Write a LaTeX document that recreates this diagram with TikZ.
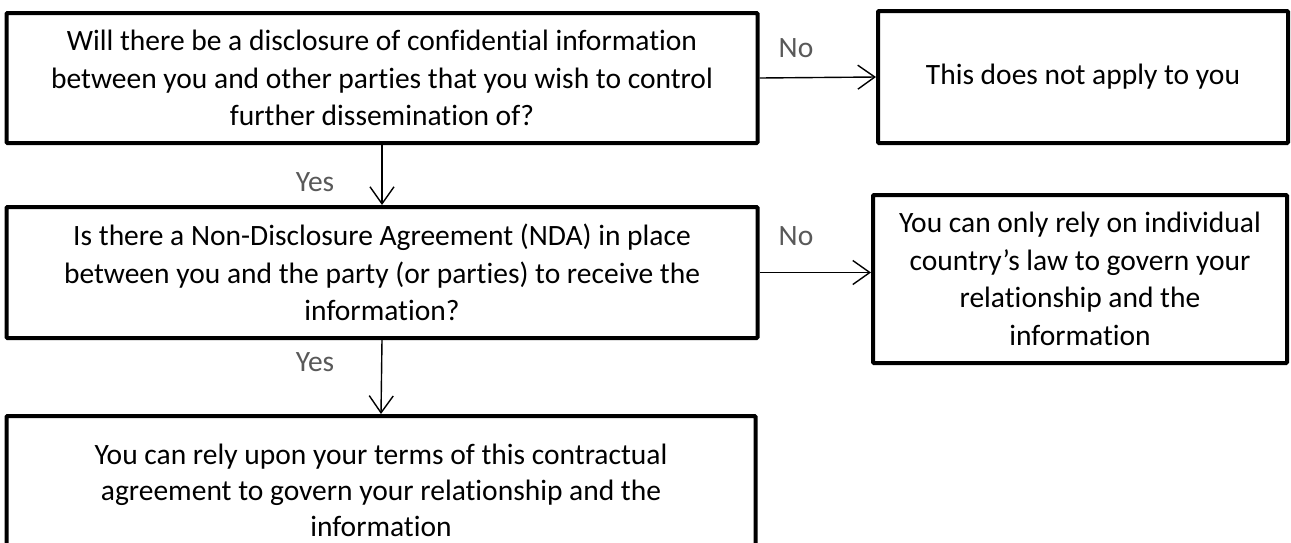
\documentclass[tikz,border=0pt]{standalone}
\usepackage{fontspec}
\setmainfont{Carlito}[RawFeature={-liga;-clig;-calt;-dlig}]
\usetikzlibrary{arrows.meta}
\definecolor{labelgrey}{HTML}{595959}
% keep "t" and "i" as separate glyphs
\newcommand\splitti{t\kern0pt i}
\tikzset{
  box/.style={draw=black, line width=4pt, rounded corners=1pt, align=center,
    inner sep=0pt, font=\fontsize{29.5}{37.5}\selectfont},
  flow/.style={line width=1.4pt, -{Straight Barb[length=17pt,width=24pt,line width=1.4pt]}},
  lbl/.style={text=labelgrey, font=\fontsize{29.5}{35}\selectfont, inner sep=0pt}
}
\begin{document}
\begin{tikzpicture}[x=1pt, y=-1pt]
  \useasboundingbox (0,0) rectangle (1291,542);
  \fill[white] (0,0) rectangle (1291,542);

  \node[box, minimum width=751pt, minimum height=130pt] (q1) at (382,78)
    {Will there be a disclosure of confiden\splitti al informa\splitti on\\
     between you and other par\splitti es that you wish to control\\
     further dissemina\splitti on of?};
  \node[box, minimum width=410pt, minimum height=132pt] (na) at (1083,77)
    {This does not apply to you};
  \node[box, minimum width=751pt, minimum height=131pt] (q2) at (382,272.5)
    {Is there a Non-Disclosure Agreement (NDA) in place\\
     between you and the party (or par\splitti es) to receive the\\
     informa\splitti on?};
  \node[box, minimum width=414pt, minimum height=168pt] (law) at (1080,279)
    {You can only rely on individual\\
     country’s law to govern your\\
     rela\splitti onship and the\\
     informa\splitti on};
  \node[box, minimum width=749pt, minimum height=160pt, anchor=north] (nda) at (381,414)
    {\rule{0pt}{0pt}\\[-29pt]You can rely upon your terms of this contractual\\[-1.5pt]
     agreement to govern your rela\splitti onship and the\\[-1.5pt]
     informa\splitti on};

  \draw[flow] (q1.east) -- (na.west);
  \draw[flow] (q2.east) -- (q2.east -| law.west);
  \draw[flow] (q1.south) -- (q2.north);
  \draw[flow] (q2.south) -- (nda.north);

  \node[lbl] (no1) at (796,48) {No};
  \node[lbl] (no2) at (796,236) {No};
  \node[lbl] (yes1) at (315,182) {Yes};
  \node[lbl] (yes2) at (315,362) {Yes};
\end{tikzpicture}
\end{document}
